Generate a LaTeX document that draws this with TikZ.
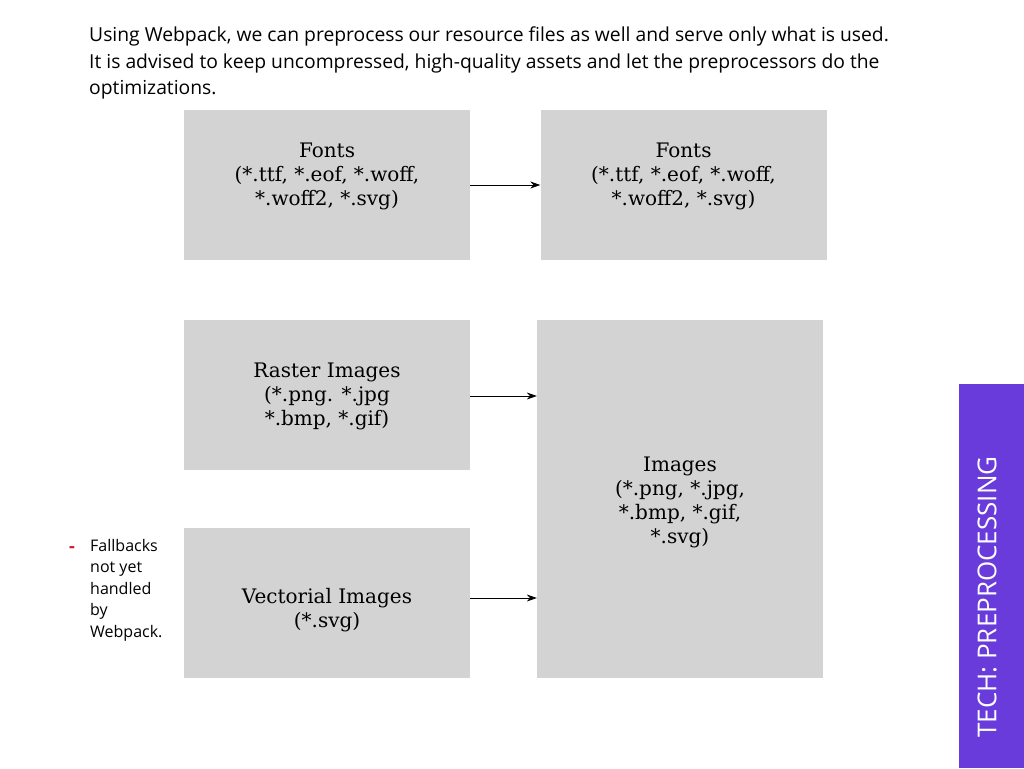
\documentclass[tikz,border=0pt]{standalone}
\usepackage{fontspec}
\setmainfont{DejaVu Serif}
\newfontfamily\notefont{Open Sans}
\usetikzlibrary{positioning,arrows.meta}
\definecolor{boxgray}{RGB}{211,211,211}
\definecolor{barpurple}{RGB}{106,59,219}
\definecolor{dashred}{RGB}{200,30,40}

\begin{document}
\begin{tikzpicture}[x=1pt,y=-1pt,
	stage/.style={fill=boxgray,inner sep=0pt,align=center,minimum width=286pt},
	label/.style={align=center,font=\fontsize{20}{24}\selectfont},
	flow/.style={-{Stealth[length=10pt,width=7pt]},line width=0.8pt}]
\useasboundingbox (0,0) rectangle (1024,768);

\node[anchor=north west,align=left,inner sep=0pt,font=\notefont\fontsize{19.3}{26.5}\selectfont] (intro) at (89,27)
	{Using Webpack, we can preprocess our resource files as well and serve only what is used.\\
	It is advised to keep uncompressed, high-quality assets and let the preprocessors do the\\
	optimizations.};

\foreach \n/\x/\y in {fontsin/327/185,fontsout/683.5/185,raster/327/394.5,vector/327/603}
	\node[stage,minimum height=150pt] (\n) at (\x,\y) {};
\node[stage,minimum height=358pt] (images) at (680,499) {};

\node[label] (fontsintext) at (327,176) {Fonts\\(*.ttf, *.eof, *.woff,\\*.woff2, *.svg)};
\node[label] (fontsouttext) at (683.5,176) {Fonts\\(*.ttf, *.eof, *.woff,\\*.woff2, *.svg)};
\node[label] (rastertext) at (327,396) {Raster Images\\(*.png. *.jpg\\*.bmp, *.gif)};
\node[label] (vectortext) at (327,610) {Vectorial Images\\(*.svg)};
\node[label] (imagestext) at (680,502) {Images\\(*.png, *.jpg,\\*.bmp, *.gif,\\*.svg)};

\draw[flow] (fontsin.east) -- (fontsout.west);
\draw[flow] ([yshift=-1.5pt]raster.east) -- ([yshift=-1.5pt]raster.east -| images.west);
\draw[flow] ([yshift=5pt]vector.east) -- ([yshift=5pt]vector.east -| images.west);

% side note
\node[text=dashred,font=\notefont\bfseries\fontsize{18}{21.5}\selectfont] (dash) at (72,550) {-};
\node[anchor=north west,align=left,inner sep=0pt,font=\notefont\fontsize{16}{21.5}\selectfont] (note) at (90,539)
	{Fallbacks\\not yet\\handled\\by\\Webpack.};

% section bar
\fill[barpurple] (959,384) rectangle (1024,768);
\node[rotate=90,text=white,font=\notefont\fontsize{26}{30}\selectfont] (bar) at (987,597) {TECH: PREPROCESSING};
\end{tikzpicture}
\end{document}
